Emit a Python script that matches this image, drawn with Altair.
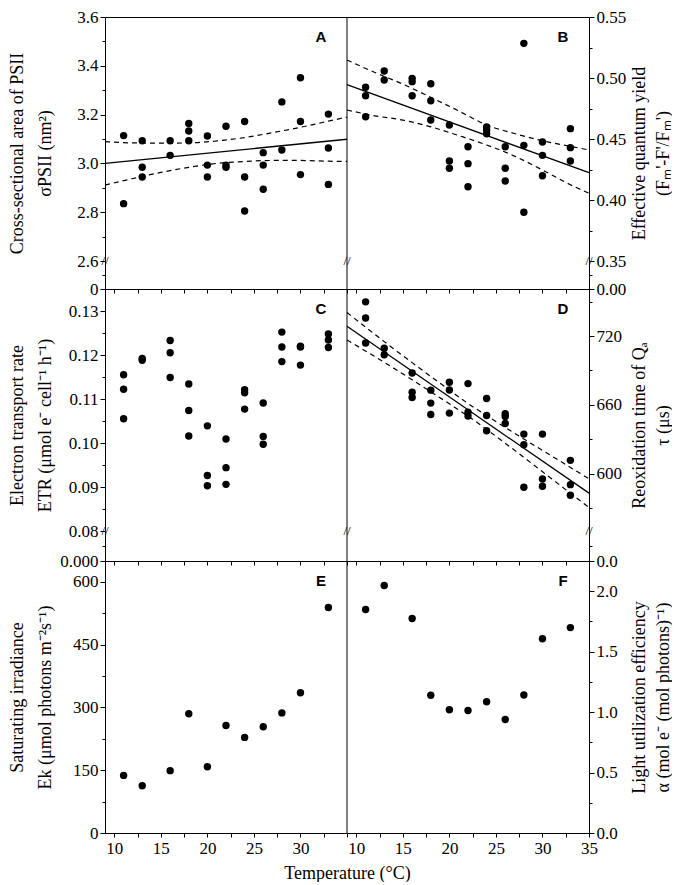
import altair as alt
import pandas as pd

SERIF = "Liberation Serif"
SANS = "Liberation Sans"

# ---------------- data ----------------
temps = [11, 13, 16, 18, 20, 22, 24, 26, 28, 30, 33]

sigma_psii = [[3.114, 2.835], [3.093, 2.984, 2.944], [3.093, 3.033],
              [3.164, 3.133, 3.093], [3.112, 2.993, 2.944], [3.152, 2.993, 2.984],
              [3.172, 2.944, 2.805], [3.044, 2.993, 2.894], [3.252, 3.055],
              [3.351, 3.172, 2.954], [3.202, 3.063, 2.914]]

quantum_yield = [[0.4924, 0.4855, 0.4683], [0.5057, 0.4984], [0.4997, 0.4970, 0.4855],
                 [0.4953, 0.4814, 0.4656], [0.4615, 0.4320, 0.4260], [0.4437, 0.4298, 0.4109],
                 [0.4598, 0.4574, 0.4543], [0.4437, 0.4260, 0.4156], [0.5284, 0.4448, 0.3899],
                 [0.4475, 0.4366, 0.4199], [0.4585, 0.4429, 0.4320]]

etr = [[0.1155, 0.1122, 0.1055], [0.1192, 0.1188], [0.1233, 0.1205, 0.1149],
       [0.1134, 0.1074, 0.1016], [0.1039, 0.0926, 0.0903], [0.1009, 0.0944, 0.0906],
       [0.1121, 0.1114, 0.1077], [0.1091, 0.1015, 0.0997], [0.1252, 0.1218, 0.1185],
       [0.1220, 0.1218, 0.1177], [0.1248, 0.1234, 0.1217]]

tau_qa = [[749.8, 735.7, 713.9], [709.3, 703.7], [687.8, 671.0, 666.4],
          [672.8, 661.5, 651.6], [679.7, 673.0, 652.8], [678.5, 653.6, 650.2],
          [665.5, 650.7, 637.4], [652.2, 649.8, 643.7], [634.5, 625.2, 588.1],
          [634.5, 595.4, 589.0], [611.6, 590.4, 581.1]]

ek = [137.7, 113, 149, 285, 158.5, 257, 228.5, 254, 287, 335, 539]
alpha = [1.849, 2.048, 1.774, 1.139, 1.020, 1.014, 1.086, 0.939, 1.142, 1.607, 1.699]

fit_x = [9, 35]
fit_sigma = [3.000, 3.099]
fit_yield = [0.4945, 0.4224]
fit_tau = [728.5, 583.0]

ci_x = [9, 12, 15, 18, 21, 24, 27, 30, 33, 35]
ci_sigma_hi = [3.089, 3.084, 3.083, 3.084, 3.092, 3.106, 3.126, 3.148, 3.173, 3.190]
ci_sigma_lo = [2.911, 2.938, 2.963, 2.984, 3.000, 3.008, 3.012, 3.012, 3.009, 3.008]
ci_yield_hi = [0.5148, 0.5045, 0.4950, 0.4842, 0.4730, 0.4615, 0.4545, 0.4486, 0.4440, 0.4410]
ci_yield_lo = [0.4738, 0.4690, 0.4655, 0.4600, 0.4528, 0.4451, 0.4360, 0.4246, 0.4125, 0.4055]
ci_tau_x = [9, 13, 16, 20, 22, 24, 28, 31, 35]
ci_tau_hi = [740.5, 715.1, 696.8, 672.9, 661.2, 650.6, 630.2, 615.4, 595.5]
ci_tau_lo = [716.5, 697.1, 681.8, 660.9, 650.2, 638.6, 614.2, 595.4, 570.5]

# tick values
x_ticks = [10, 12.5, 15, 17.5, 20, 22.5, 25, 27.5, 30, 32.5, 35]
sigma_ticks = [2.6, 2.7, 2.8, 2.9, 3.0, 3.1, 3.2, 3.3, 3.4, 3.5, 3.6]
yield_ticks = [0.35, 0.375, 0.40, 0.425, 0.45, 0.475, 0.50, 0.525, 0.55]
etr_ticks = [0.08, 0.085, 0.09, 0.095, 0.10, 0.105, 0.11, 0.115, 0.12, 0.125, 0.13]
tau_ticks = [570, 600, 630, 660, 690, 720, 750]
ek_ticks = [0, 75, 150, 225, 300, 375, 450, 525, 600]
alpha_ticks = [0, 0.25, 0.5, 0.75, 1.0, 1.25, 1.5, 1.75, 2.0]

# titles
title_A = ["Cross-sectional area of PSII", "σPSII (nm²)"]
title_B = ["Effective quantum yield", "(Fₘ'-F'/Fₘ')"]
title_C = ["Electron transport rate", "ETR (μmol e⁻  cell⁻¹ h⁻¹)"]
title_D = ["Reoxidation time of Qₐ", "τ (μs)"]
title_E = ["Saturating irradiance", "Ek (μmol photons m⁻²s⁻¹)"]
title_F = ["Light utilization efficiency", "α (mol e⁻ (mol  photons)⁻¹)"]
x_title = "Temperature (°C)"

# ---------------- helpers ----------------
W = 242
XDOM = [9, 35]


def pts_df(values_by_temp):
    xs, ys = [], []
    for t, vals in zip(temps, values_by_temp):
        for v in vals:
            xs.append(t)
            ys.append(v)
    return pd.DataFrame({"x": xs, "y": ys})


def yaxis(orient, values, step, fmt, title=None):
    test = f"abs(datum.value / {step} - round(datum.value / {step})) < 0.001"
    kw = dict(orient=orient, values=values,
              tickSize={"condition": {"test": test, "value": 5}, "value": 3},
              labelExpr=f"({test}) ? format(datum.value, '{fmt}') : ''",
              labelPadding=2, grid=False, domain=True, ticks=True)
    if title is None:
        kw["title"] = None
    else:
        left = orient == "left"
        kw.update(title=title, titleAngle=270, titleAlign="center",
                  titleBaseline="middle", titleX=-88 if left else 50, titleY=136,
                  titleLineHeight=28 if left else 24)
    return alt.Axis(**kw)


x_top = alt.Axis(orient="top", labels=False, ticks=False, domain=True, title=None, grid=False)
x_mid = alt.Axis(orient="bottom", values=x_ticks, labels=False, tickSize=4,
                 domain=True, title=None, grid=False)


def x_bottom(last, title=None):
    test = f"abs(datum.value / 5 - round(datum.value / 5)) < 0.001 && datum.value <= {last}"
    kw = dict(orient="bottom", values=x_ticks, tickSize=4, labelPadding=3,
              labelExpr=f"({test}) ? format(datum.value, 'd') : ''", domain=True, grid=False)
    if title is None:
        kw["title"] = None
    else:
        kw.update(title=title, titleX=W, titleAlign="center", titlePadding=8, titleFontSize=18)
    return alt.Axis(**kw)


def panel(ydom, yax, xax, h, pts=None, lines=(), letter=None, divider=False, breaks=()):
    X = alt.X("x:Q", scale=alt.Scale(domain=XDOM, nice=False, zero=False), axis=xax)
    Y = alt.Y("y:Q", scale=alt.Scale(domain=ydom, nice=False, zero=False), axis=yax)
    if pts is None:
        pts = pd.DataFrame({"x": [], "y": []})
    layers = [alt.Chart(pts).mark_circle(size=55, color="black", opacity=1).encode(x=X, y=Y)]
    for xs, ys, dash in lines:
        df = pd.DataFrame({"x": xs, "y": ys})
        mk = dict(color="black", strokeWidth=1.3)
        if dash:
            mk.update(strokeDash=[5, 4], strokeWidth=1.2, interpolate="monotone")
        layers.append(alt.Chart(df).mark_line(**mk).encode(x=X, y=Y))
    if divider:
        layers.append(alt.Chart(pd.DataFrame({"x": [XDOM[1]]}))
                      .mark_rule(color="black", strokeWidth=1).encode(x=X))
    if breaks:
        bdf = pd.DataFrame({"x": list(breaks), "y": [ydom[0]] * len(breaks)})
        layers.append(alt.Chart(bdf).mark_text(text="//", font=SERIF, fontSize=13,
                                               align="center", baseline="middle",
                                               color="black").encode(x=X, y=Y))
    if letter:
        layers.append(alt.Chart(pd.DataFrame({"t": [letter]}))
                      .mark_text(font=SANS, fontWeight="bold", fontSize=15, color="black",
                                 align="center", baseline="middle")
                      .encode(x=alt.value(216), y=alt.value(20), text="t:N"))
    return alt.layer(*layers).properties(width=W, height=h)


# ---------------- panels ----------------
A_up = panel([2.6, 3.6], yaxis("left", sigma_ticks, 0.2, ".1f", title_A), x_top, 244,
             pts=pts_df(sigma_psii),
             lines=[(fit_x, fit_sigma, False), (ci_x, ci_sigma_hi, True), (ci_x, ci_sigma_lo, True)],
             letter="A", divider=True, breaks=(XDOM[0], XDOM[1]))
B_up = panel([0.35, 0.55], yaxis("right", yield_ticks, 0.05, ".2f", title_B), x_top, 244,
             pts=pts_df(quantum_yield),
             lines=[(fit_x, fit_yield, False), (ci_x, ci_yield_hi, True), (ci_x, ci_yield_lo, True)],
             letter="B", breaks=(XDOM[1],))
A_low = panel([0, 0.2], yaxis("left", [0, 0.1], 0.2, "d"), x_mid, 28, divider=True)
B_low = panel([0, 0.02], yaxis("right", [0, 0.01], 0.02, ".2f"), x_mid, 28)

C_up = panel([0.08, 0.135], yaxis("left", etr_ticks, 0.01, ".2f", title_C), None, 242,
             pts=pts_df(etr), letter="C", divider=True, breaks=(XDOM[0], XDOM[1]))
D_up = panel([550, 761], yaxis("right", tau_ticks, 60, "d", title_D), None, 242,
             pts=pts_df(tau_qa),
             lines=[(fit_x, fit_tau, False), (ci_tau_x, ci_tau_hi, True), (ci_tau_x, ci_tau_lo, True)],
             letter="D", breaks=(XDOM[1],))
C_low = panel([0, 0.02], yaxis("left", [0, 0.01], 0.02, ".3f"), x_mid, 30, divider=True)
D_low = panel([0, 0.2], yaxis("right", [0, 0.1], 0.2, ".1f"), x_mid, 30)

E = panel([0, 650], yaxis("left", ek_ticks, 150, "d", title_E), x_bottom(30, x_title), 272,
          pts=pd.DataFrame({"x": temps, "y": ek}), letter="E", divider=True)
F = panel([0, 2.25], yaxis("right", alpha_ticks, 0.5, ".1f", title_F), x_bottom(35), 272,
          pts=pd.DataFrame({"x": temps, "y": alpha}), letter="F")

chart = alt.concat(A_up, B_up, A_low, B_low, C_up, D_up, C_low, D_low, E, F,
                   columns=2, spacing=0, bounds="flush", align="each").properties(
    padding={"left": 0, "top": 0, "right": 0, "bottom": 0}
).configure_view(stroke=None).configure_axis(
    labelFont=SERIF, labelFontSize=17, labelColor="black",
    titleFont=SERIF, titleFontSize=18, titleFontWeight="normal", titleColor="black",
    domainColor="black", tickColor="black", domainWidth=1, tickWidth=1,
    labelOverlap=False, labelFlush=False, grid=False
)

chart.save("out.html", embed_options={"renderer": "svg", "actions": False})
